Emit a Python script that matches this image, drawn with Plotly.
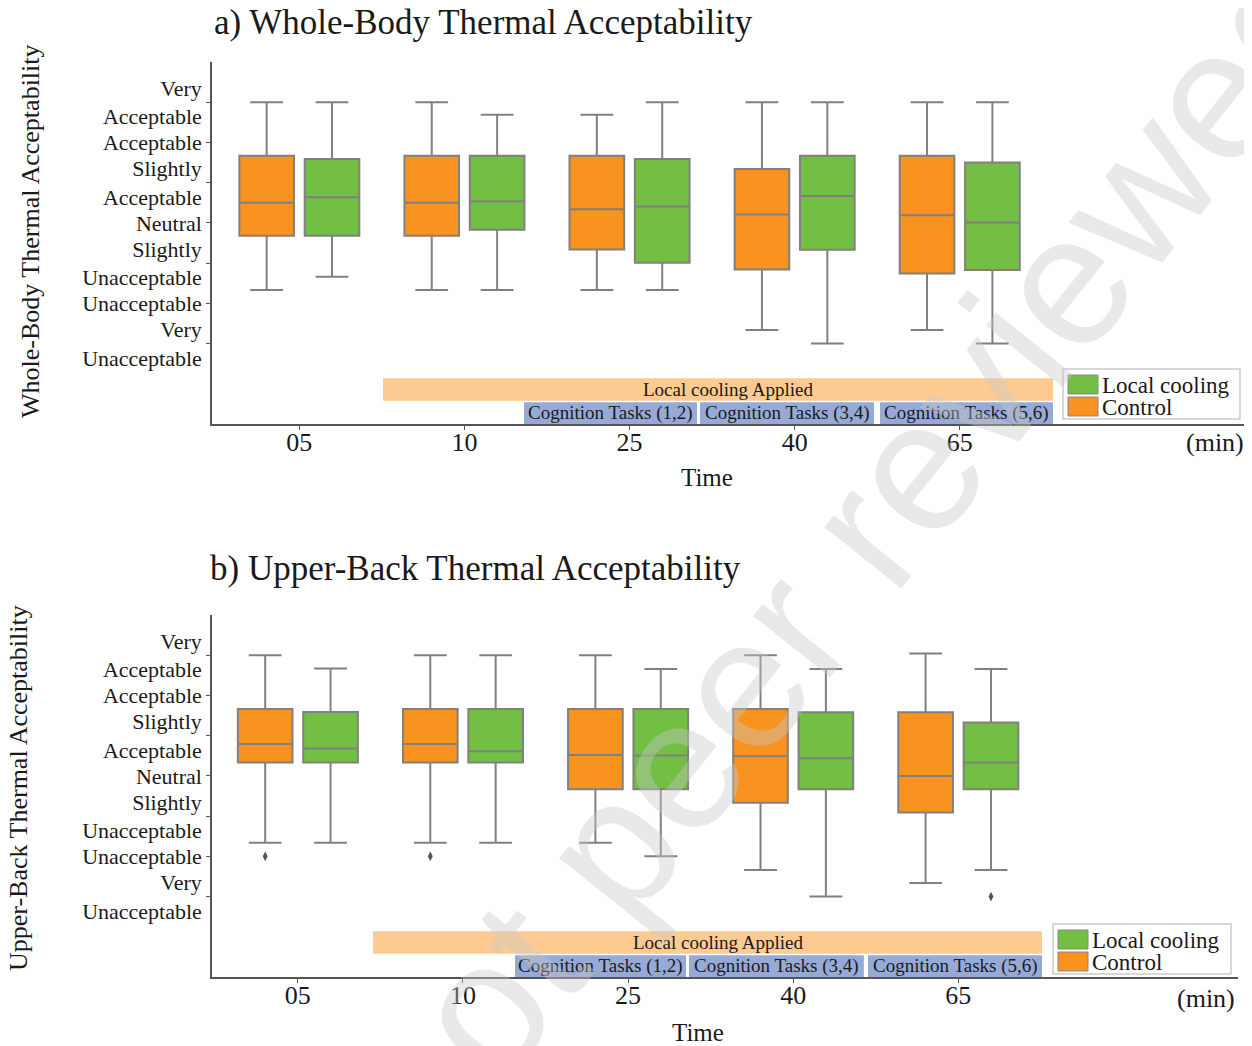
import plotly.graph_objects as go

# ---------------- data ----------------
times = ["05", "10", "25", "40", "65"]
ytick_vals = [3, 2, 1, 0, -1, -2, -3]
ytick_text = ["Very<br>Acceptable", "Acceptable", "Slightly<br>Acceptable", "Neutral",
              "Slightly<br>Unacceptable", "Unacceptable", "Very<br>Unacceptable"]
series_names = ["Local cooling", "Control"]

# a) Whole-body thermal acceptability
wb_ctrl_q1 = [-0.32, -0.32, -0.66, -1.16, -1.26]
wb_ctrl_med = [0.50, 0.50, 0.34, 0.21, 0.19]
wb_ctrl_q3 = [1.67, 1.67, 1.67, 1.34, 1.67]
wb_ctrl_lo = [-1.67, -1.67, -1.67, -2.66, -2.66]
wb_ctrl_hi = [3.0, 3.0, 2.69, 3.0, 3.0]

wb_cool_q1 = [-0.32, -0.17, -0.99, -0.67, -1.17]
wb_cool_med = [0.64, 0.54, 0.41, 0.67, 0.01]
wb_cool_q3 = [1.59, 1.67, 1.59, 1.67, 1.50]
wb_cool_lo = [-1.34, -1.67, -1.67, -3.0, -3.0]
wb_cool_hi = [3.0, 2.69, 3.0, 3.0, 3.0]

# b) Upper-back thermal acceptability
ub_ctrl_q1 = [0.33, 0.33, -0.33, -0.67, -0.91]
ub_ctrl_med = [0.79, 0.79, 0.52, 0.49, 0.0]
ub_ctrl_q3 = [1.66, 1.66, 1.66, 1.66, 1.58]
ub_ctrl_lo = [-1.66, -1.66, -1.66, -2.34, -2.66]
ub_ctrl_hi = [3.0, 3.0, 3.0, 3.0, 3.04]
ub_ctrl_out = [[-2.0], [-2.0], [None], [None], [None]]

ub_cool_q1 = [0.33, 0.33, -0.33, -0.33, -0.33]
ub_cool_med = [0.68, 0.61, 0.51, 0.44, 0.33]
ub_cool_q3 = [1.59, 1.66, 1.66, 1.58, 1.33]
ub_cool_lo = [-1.66, -1.66, -2.0, -3.0, -2.34]
ub_cool_hi = [2.67, 3.0, 2.66, 2.66, 2.66]
ub_cool_out = [[None], [None], [None], [None], [-3.0]]

# protocol bands (in category-index units along the time axis)
band_labels = ["Local cooling Applied", "Cognition Tasks (1,2)",
               "Cognition Tasks (3,4)", "Cognition Tasks (5,6)"]
band_a_start = [0.507, 1.361, 2.427, 3.517]
band_a_end = [4.565, 2.409, 3.481, 4.565]
band_b_start = [0.455, 1.315, 2.369, 3.453]
band_b_end = [4.507, 2.351, 3.428, 4.507]
band_text_a = [2.596, None, None, None]
band_text_b = [2.545, None, None, None]

# ---------------- style ----------------
ORANGE = "#F7931E"
GREEN = "#72BF44"
BAND_OR = "#FDCB92"
BAND_BL = "#97AAD6"
GREYLINE = "#808080"
AXC = "#555555"
TXT = "#1a1a1a"
SERIF = "Liberation Serif, Times New Roman, serif"
OFF = 8                      # page body margin
W, H = 1252 - OFF, 1046 - OFF


def px(x):
    return (x - OFF) / W


def py(y):
    return 1 - (y - OFF) / H


fig = go.Figure()


def add_boxes(xa, ya, ctrl, cool, ctrl_out=None, cool_out=None):
    for name, st, col, outs, grp in [("Control", ctrl, ORANGE, ctrl_out, "c"),
                                     ("Local cooling", cool, GREEN, cool_out, "l")]:
        q1, med, q3, lo, hi = st
        kw = {}
        if outs is not None:
            kw["y"] = outs
        fig.add_trace(go.Box(
            x=times, q1=q1, median=med, q3=q3, lowerfence=lo, upperfence=hi,
            name=name, fillcolor=col, line=dict(color=GREYLINE, width=2),
            whiskerwidth=0.6, boxpoints="outliers" if outs is not None else False,
            jitter=0, pointpos=0,
            marker=dict(symbol="diamond-tall", size=7, color="#555555"),
            xaxis=xa, yaxis=ya, offsetgroup=grp,
            alignmentgroup=xa, showlegend=False, **kw))


add_boxes("x", "y",
          (wb_ctrl_q1, wb_ctrl_med, wb_ctrl_q3, wb_ctrl_lo, wb_ctrl_hi),
          (wb_cool_q1, wb_cool_med, wb_cool_q3, wb_cool_lo, wb_cool_hi))
add_boxes("x2", "y2",
          (ub_ctrl_q1, ub_ctrl_med, ub_ctrl_q3, ub_ctrl_lo, ub_ctrl_hi),
          (ub_cool_q1, ub_cool_med, ub_cool_q3, ub_cool_lo, ub_cool_hi),
          ub_ctrl_out, ub_cool_out)

shapes = []
annotations = []
for xr, yr, starts, ends, tx in [("x", "y", band_a_start, band_a_end, band_text_a),
                                 ("x2", "y2", band_b_start, band_b_end, band_text_b)]:
    for i, lab in enumerate(band_labels):
        if i == 0:
            y0, y1, col = -4.42, -3.86, BAND_OR
        else:
            y0, y1, col = -5.0, -4.46, BAND_BL
        shapes.append(dict(type="rect", xref=xr, yref=yr, x0=starts[i], x1=ends[i],
                           y0=y0, y1=y1, fillcolor=col, line=dict(width=0), layer="below"))
        xc = tx[i] if tx[i] is not None else (starts[i] + ends[i]) / 2
        annotations.append(dict(xref=xr, yref=yr, x=xc, y=(y0 + y1) / 2, text=lab,
                                showarrow=False, font=dict(family=SERIF, size=19, color=TXT)))

# legends (key boxes), one per panel
for (bx0, by0, bx1, by1) in [(1063, 369, 1240, 419), (1053, 924, 1231, 974)]:
    shapes.append(dict(type="rect", xref="paper", yref="paper", x0=px(bx0), x1=px(bx1),
                       y0=py(by1), y1=py(by0), fillcolor="white",
                       line=dict(color="#cccccc", width=1.5), layer="above"))
    for k, (nm, col) in enumerate(zip(series_names, [GREEN, ORANGE])):
        sy0 = by0 + 6 + k * 22
        shapes.append(dict(type="rect", xref="paper", yref="paper",
                           x0=px(bx0 + 5), x1=px(bx0 + 35), y0=py(sy0 + 19), y1=py(sy0),
                           fillcolor=col, line=dict(color="#888888", width=1), layer="above"))
        annotations.append(dict(xref="paper", yref="paper", x=px(bx0 + 37),
                                y=py(sy0 + 10), text=nm, showarrow=False,
                                xanchor="left", yanchor="middle",
                                font=dict(family=SERIF, size=23, color=TXT)))

# titles & axis labels
txts = [
    ("a) Whole-Body Thermal Acceptability", 212, 22, 35, "left", 0),
    ("b) Upper-Back Thermal Acceptability", 208, 568, 35, "left", 0),
    ("Whole-Body Thermal Acceptability", 30, 231, 26, "center", -90),
    ("Upper-Back Thermal Acceptability", 18, 788, 26, "center", -90),
    ("Time", 707, 477, 25, "center", 0),
    ("Time", 698, 1032, 25, "center", 0),
    ("(min)", 1215, 442, 26, "center", 0),
    ("(min)", 1206, 998, 26, "center", 0),
]
for t, x, y, s, anc, ang in txts:
    annotations.append(dict(xref="paper", yref="paper", x=px(x), y=py(y), text=t,
                            showarrow=False, xanchor=anc, yanchor="middle", textangle=ang,
                            font=dict(family=SERIF, size=s, color=TXT)))

# watermark
annotations.append(dict(xref="paper", yref="paper", x=px(626), y=py(828),
                        text="Preprint not peer reviewed", showarrow=False,
                        textangle=-51.3, xanchor="center", yanchor="middle",
                        font=dict(family="Liberation Sans, Arial, sans-serif", size=186,
                                  color="rgba(200,200,200,0.4)")))

xcommon = dict(type="category", showline=True, linecolor=AXC, linewidth=1.5,
               ticks="outside", ticklen=4, tickcolor=AXC, showgrid=False, zeroline=False,
               tickfont=dict(family=SERIF, size=26, color=TXT), automargin=False,
               ticklabelstandoff=-10,
               categoryorder="array", categoryarray=times)
ycommon = dict(range=[-5, 4], showline=True, linecolor=AXC, linewidth=1.5,
               ticks="outside", ticklen=4, tickcolor=AXC, showgrid=False, zeroline=False,
               tickvals=ytick_vals, ticktext=ytick_text,
               tickfont=dict(family=SERIF, size=22, color=TXT), automargin=False)

fig.update_layout(
    width=W, height=H, margin=dict(l=0, r=0, t=0, b=0),
    paper_bgcolor="white", plot_bgcolor="white",
    boxmode="group", boxgap=0.208, boxgroupgap=0.164,
    xaxis=dict(xcommon, domain=[px(212), px(1246)], range=[-0.529, 5.734], anchor="y"),
    yaxis=dict(ycommon, domain=[py(424), py(62)], anchor="x"),
    xaxis2=dict(xcommon, domain=[px(212), px(1238)], range=[-0.520, 5.694], anchor="y2"),
    yaxis2=dict(ycommon, domain=[py(977), py(615)], anchor="x2"),
    shapes=shapes, annotations=annotations, showlegend=False,
)

fig.write_html("out.html")
